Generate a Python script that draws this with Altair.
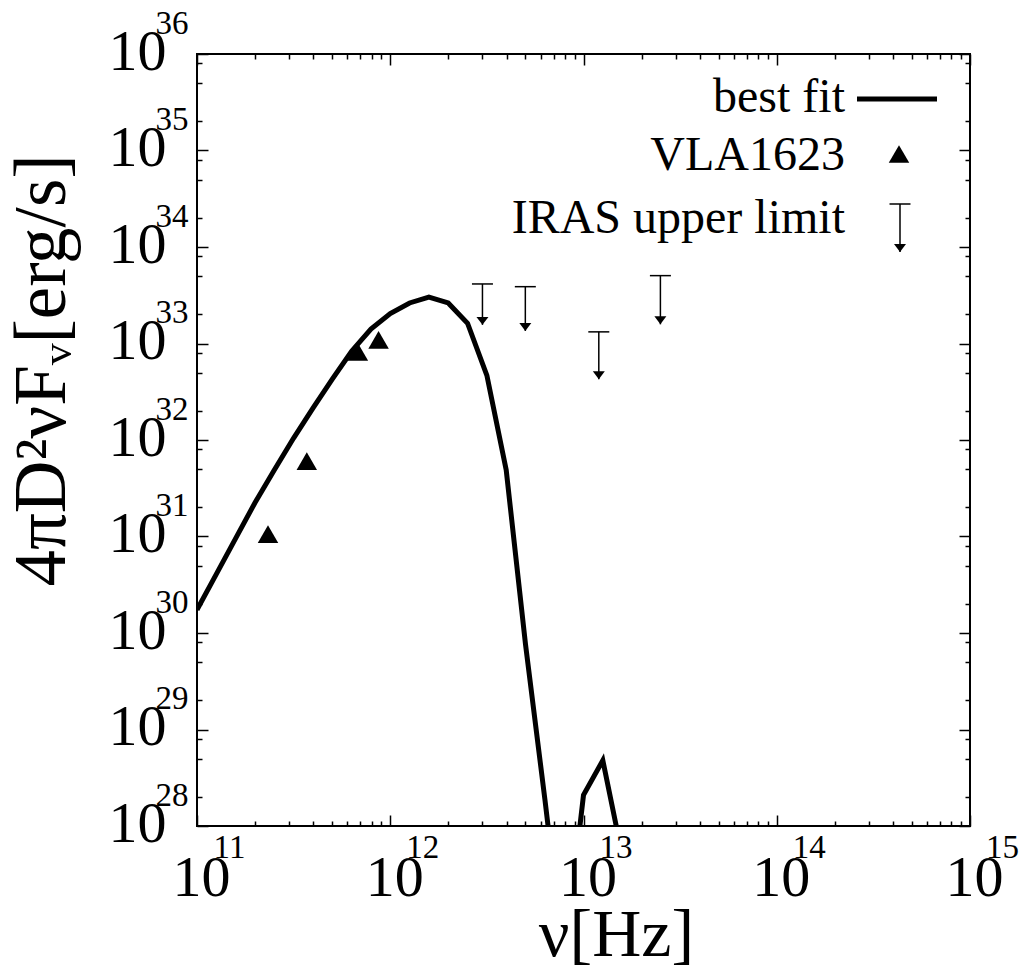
import altair as alt
import pandas as pd

FONT = "Liberation Serif"

# ---- data ----
# best-fit model curve: log10(nu [Hz]) and log10(4 pi D^2 nu F_nu [erg/s])
fit_log_nu = [11.0, 11.1, 11.2, 11.3, 11.4, 11.5, 11.6, 11.7, 11.8, 11.9,
              12.0, 12.1, 12.2, 12.3, 12.4, 12.5, 12.6, 12.7, 12.8, 12.9,
              13.0, 13.1, 13.2]
fit_log_L = [30.24, 30.61, 30.98, 31.35, 31.69, 32.02, 32.33, 32.63, 32.92, 33.15,
             33.31, 33.42, 33.48, 33.42, 33.21, 32.67, 31.69, 29.88, 28.28, 26.60,
             28.32, 28.68, 27.70]

# VLA1623 measured points
vla_nu = [2.33e11, 3.7e11, 6.8e11, 8.7e11]
vla_L = [1.06e31, 6.05e31, 8.2e32, 1.09e33]

# IRAS upper limits (cap value and arrow tip)
iras_nu = [3.0e12, 5.0e12, 1.2e13, 2.5e13]
iras_L = [4.14e33, 3.88e33, 1.32e33, 5.05e33]
iras_tip = [1.56e33, 1.35e33, 4.26e32, 1.58e33]

legend_labels = ["best fit", "VLA1623", "IRAS upper limit"]

x_major = [1e11, 1e12, 1e13, 1e14, 1e15]
y_major = [1e28, 1e29, 1e30, 1e31, 1e32, 1e33, 1e34, 1e35, 1e36]
x_minor = [m * 10.0 ** e for e in range(11, 15) for m in range(2, 10)]
y_minor = [m * 10.0 ** e for e in range(28, 36) for m in (2, 5, 8)]

# ---- layout ----
W, H = 773, 772
xscale = alt.Scale(type="log", domain=[1e11, 1e15], nice=False)
yscale = alt.Scale(type="log", domain=[1e28, 1e36], nice=False)

exp_expr = "'' + round(log(datum.value)/LN10)"

common_lbl = dict(ticks=False, domain=False, grid=False, labelFont=FONT,
                  labelColor="black", labelOverlap=False, labelFlush=False)


def tick_axis(orient, offset, values, size):
    return alt.Axis(orient=orient, offset=offset, values=values, labels=False,
                    domain=False, grid=False, ticks=True, tickSize=size,
                    tickWidth=1.5, tickColor="black", title=None)


ax_x_base = alt.Axis(orient="bottom", values=x_major, labelExpr="'10'",
                     labelFontSize=58, labelBaseline="alphabetic", labelAlign="center",
                     labelPadding=69, labelOffset=4,
                     title="ν[Hz]", titleFont=FONT, titleFontSize=68, titleFontWeight="normal",
                     titleColor="black", titleX=419, titleY=129, titleAlign="center",
                     titleBaseline="alphabetic", **common_lbl)
ax_x_sup = alt.Axis(orient="bottom", values=x_major, labelExpr=exp_expr,
                    labelFontSize=33, labelBaseline="alphabetic", labelAlign="center",
                    labelPadding=31, labelOffset=32, title=None, **common_lbl)

ax_y_base = alt.Axis(orient="left", values=y_major, labelExpr="'10'",
                     labelFontSize=58, labelBaseline="alphabetic", labelAlign="right",
                     labelPadding=31, labelOffset=15,
                     title="4πD²νFᵥ[erg/s]", titleFont=FONT, titleFontSize=73,
                     titleFontWeight="normal", titleColor="black", titleAngle=270,
                     titleX=-133, titleY=316, titleAlign="center", titleBaseline="alphabetic",
                     **common_lbl)
ax_y_sup = alt.Axis(orient="left", values=y_major, labelExpr=exp_expr,
                    labelFontSize=33, labelBaseline="alphabetic", labelAlign="right",
                    labelPadding=9, labelOffset=-21, title=None, **common_lbl)

# inward ticks on all four sides (axes moved across the plot so ticks point inside)
ax_x_bot_major = tick_axis("top", -H, x_major, 11)
ax_x_bot_minor = tick_axis("top", -H, x_minor, 5)
ax_x_top_major = tick_axis("bottom", -H, x_major, 11)
ax_x_top_minor = tick_axis("bottom", -H, x_minor, 5)
ax_y_left_major = tick_axis("right", -W, y_major, 11)
ax_y_left_minor = tick_axis("right", -W, y_minor, 5)
ax_y_right_major = tick_axis("left", -W, y_major, 11)
ax_y_right_minor = tick_axis("left", -W, y_minor, 5)

fit_df = pd.DataFrame({"nu": [10 ** v for v in fit_log_nu],
                       "L": [10 ** v for v in fit_log_L]})
vla_df = pd.DataFrame({"nu": vla_nu, "L": vla_L})
iras_df = pd.DataFrame({"nu": iras_nu, "L": iras_L, "tip": iras_tip})

line = alt.Chart(fit_df).mark_line(color="black", strokeWidth=5, clip=True).encode(
    x=alt.X("nu:Q", scale=xscale, axis=ax_x_base),
    y=alt.Y("L:Q", scale=yscale, axis=ax_y_base),
    order="nu:Q",
)
tri = alt.Chart(vla_df).mark_point(shape="triangle-up", filled=True, color="black",
                                   size=420, opacity=1).encode(
    x=alt.X("nu:Q", scale=xscale, axis=ax_x_sup),
    y=alt.Y("L:Q", scale=yscale, axis=ax_y_sup),
)
stems = alt.Chart(iras_df).mark_rule(color="black", strokeWidth=1.5).encode(
    x=alt.X("nu:Q", scale=xscale, axis=ax_x_bot_major),
    y=alt.Y("L:Q", scale=yscale, axis=ax_y_left_major),
    y2="tip:Q",
)
caps = alt.Chart(iras_df).mark_tick(orient="horizontal", color="black", size=21,
                                    thickness=1.5, opacity=1).encode(
    x=alt.X("nu:Q", scale=xscale, axis=ax_x_bot_minor),
    y=alt.Y("L:Q", scale=yscale, axis=ax_y_left_minor),
)
HEAD = "M-1,-1.33L1,-1.33L0,0Z"
heads = alt.Chart(iras_df).mark_point(shape=HEAD, filled=True, color="black",
                                      size=144, opacity=1).encode(
    x=alt.X("nu:Q", scale=xscale, axis=ax_x_top_major),
    y=alt.Y("tip:Q", scale=yscale, axis=ax_y_right_major),
)
# invisible carrier for the remaining tick axes
ghost = alt.Chart(vla_df).mark_point(opacity=0).encode(
    x=alt.X("nu:Q", scale=xscale, axis=ax_x_top_minor),
    y=alt.Y("L:Q", scale=yscale, axis=ax_y_right_minor),
)

# ---- key (top right, gnuplot style: text then sample) ----
def key_text(i, ypix):
    return alt.Chart(pd.DataFrame({"t": [legend_labels[i]]})).mark_text(
        align="right", baseline="alphabetic", font=FONT, fontSize=48, color="black"
    ).encode(text="t:N", x=alt.value(648), y=alt.value(ypix))


one = pd.DataFrame({"k": [0]})
key_line = alt.Chart(one).mark_rule(color="black", strokeWidth=5).encode(
    x=alt.value(660), x2=alt.value(740), y=alt.value(45))
key_tri = alt.Chart(one).mark_point(shape="triangle-up", filled=True, color="black",
                                    size=420, opacity=1).encode(
    x=alt.value(702), y=alt.value(100))
key_cap = alt.Chart(one).mark_tick(orient="horizontal", color="black", size=21,
                                   thickness=1.5, opacity=1).encode(
    x=alt.value(703), y=alt.value(150))
key_stem = alt.Chart(one).mark_rule(color="black", strokeWidth=1.5).encode(
    x=alt.value(703), y=alt.value(150), y2=alt.value(198))
key_head = alt.Chart(one).mark_point(shape=HEAD, filled=True, color="black",
                                     size=144, opacity=1).encode(
    x=alt.value(703), y=alt.value(198))

chart = alt.layer(
    line, tri, stems, caps, heads, ghost,
    key_text(0, 58), key_text(1, 116), key_text(2, 179),
    key_line, key_tri, key_cap, key_stem, key_head,
).resolve_axis(x="independent", y="independent").properties(
    width=W, height=H,
    autosize=alt.AutoSizeParams(type="none"),
    padding={"left": 197, "top": 54, "right": 51, "bottom": 147},
    background="white",
).configure_view(stroke="black", strokeWidth=2)

chart.save("out.html", embed_options={"renderer": "svg", "actions": False})
